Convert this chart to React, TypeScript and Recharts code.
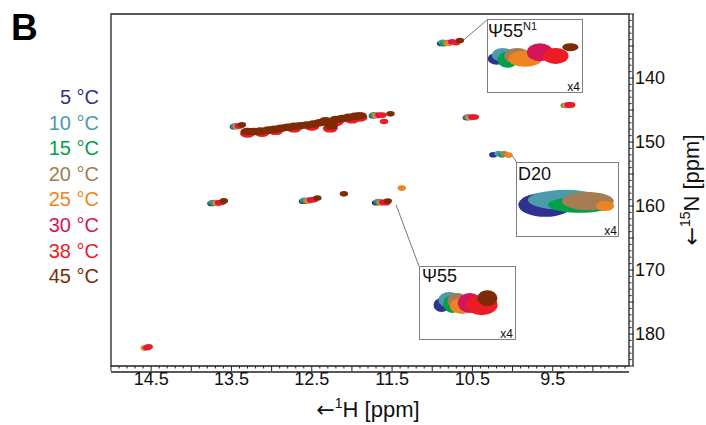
import React from 'react';
import { ScatterChart, Scatter, XAxis, YAxis, ReferenceArea, ReferenceLine } from 'recharts';

const temps = ['5 °C', '10 °C', '15 °C', '20 °C', '25 °C', '30 °C', '38 °C', '45 °C'];
const tempColors = ['#2e3192', '#4b9bab', '#00a14b', '#a67c52', '#ee8421', '#d4145a', '#ec1c24', '#7e2a05'];

// peak positions per temperature: h = 1H ppm, n = 15N ppm
const peaks5 = [
  { id: 'psi55n1', h: 10.89, n: 134.6 },
  { id: 'd20', h: 10.24, n: 152.0 },
  { id: 'psi55', h: 11.7, n: 159.5 },
  { id: 'a', h: 13.75, n: 159.6 },
  { id: 'b', h: 12.61, n: 159.25 },
  { id: 'c', h: 13.47, n: 147.6 },
  { id: 'd', h: 11.74, n: 145.9 },
  { id: 'e', h: 10.57, n: 146.2 },
];
const peaks10 = [
  { id: 'psi55n1', h: 10.871, n: 134.44 },
  { id: 'd20', h: 10.175, n: 151.8 },
  { id: 'psi55', h: 11.675, n: 159.3 },
  { id: 'a', h: 13.735, n: 159.45 },
  { id: 'b', h: 12.595, n: 159.1 },
  { id: 'c', h: 13.46, n: 147.5 },
  { id: 'd', h: 11.73, n: 145.75 },
  { id: 'e', h: 10.56, n: 146.1 },
];
const peaks15 = [
  { id: 'psi55n1', h: 10.856, n: 134.64 },
  { id: 'd20', h: 10.13, n: 152.0 },
  { id: 'psi55', h: 11.666, n: 159.46 },
  { id: 'a', h: 13.72, n: 159.55 },
  { id: 'b', h: 12.58, n: 159.2 },
  { id: 'c', h: 13.45, n: 147.55 },
  { id: 'd', h: 11.72, n: 145.85 },
  { id: 'e', h: 10.55, n: 146.15 },
  { id: 'f', h: 9.35, n: 144.3 },
];
const peaks20 = [
  { id: 'psi55n1', h: 10.825, n: 134.48 },
  { id: 'd20', h: 10.105, n: 151.85 },
  { id: 'psi55', h: 11.65, n: 159.34 },
  { id: 'a', h: 13.7, n: 159.45 },
  { id: 'b', h: 12.56, n: 159.1 },
  { id: 'c', h: 13.44, n: 147.5 },
  { id: 'd', h: 11.705, n: 145.8 },
  { id: 'e', h: 10.54, n: 146.1 },
  { id: 'f', h: 9.34, n: 144.25 },
];
const peaks25 = [
  { id: 'psi55n1', h: 10.8, n: 134.6 },
  { id: 'd20', h: 10.05, n: 152.05 },
  { id: 'psi55', h: 11.635, n: 159.54 },
  { id: 'a', h: 13.68, n: 159.6 },
  { id: 'b', h: 12.54, n: 159.2 },
  { id: 'c', h: 13.43, n: 147.6 },
  { id: 'd', h: 11.69, n: 145.9 },
  { id: 'e', h: 10.53, n: 146.2 },
  { id: 'f', h: 9.33, n: 144.3 },
  { id: 'i', h: 11.38, n: 157.2 },
  { id: 'j', h: 14.58, n: 182.2 },
];
const peaks30 = [
  { id: 'psi55n1', h: 10.753, n: 134.33 },
  { id: 'psi55', h: 11.61, n: 159.42 },
  { id: 'a', h: 13.655, n: 159.5 },
  { id: 'b', h: 12.51, n: 159.05 },
  { id: 'c', h: 13.41, n: 147.5 },
  { id: 'd', h: 11.66, n: 145.8 },
  { id: 'e', h: 10.5, n: 146.1 },
  { id: 'f', h: 9.3, n: 144.2 },
  { id: 'j', h: 14.55, n: 182.1 },
];
const peaks38 = [
  { id: 'psi55n1', h: 10.703, n: 134.48 },
  { id: 'psi55', h: 11.572, n: 159.5 },
  { id: 'a', h: 13.625, n: 159.45 },
  { id: 'b', h: 12.47, n: 159.0 },
  { id: 'c', h: 13.39, n: 147.45 },
  { id: 'd', h: 11.62, n: 145.8 },
  { id: 'e', h: 10.47, n: 146.1 },
  { id: 'f', h: 9.27, n: 144.2 },
  { id: 'g', h: 11.6, n: 146.8 },
  { id: 'j', h: 14.53, n: 182.0 },
];
const peaks45 = [
  { id: 'psi55n1', h: 10.656, n: 134.13 },
  { id: 'psi55', h: 11.554, n: 159.23 },
  { id: 'a', h: 13.595, n: 159.2 },
  { id: 'b', h: 12.43, n: 158.75 },
  { id: 'c', h: 13.37, n: 147.3 },
  { id: 'd', h: 11.52, n: 145.6 },
  { id: 'h', h: 12.1, n: 158.1 },
];
const peaksByTemp = [peaks5, peaks10, peaks15, peaks20, peaks25, peaks30, peaks38, peaks45];

// crowded region (overlapping peaks) at 38 and 45 °C
const band38 = [
  { h: 13.3, n: 148.7 }, { h: 13.12, n: 148.6 }, { h: 12.95, n: 148.3 }, { h: 12.72, n: 147.9 },
  { h: 12.5, n: 147.6 }, { h: 12.27, n: 147.9 }, { h: 12.2, n: 146.9 }, { h: 12.0, n: 146.5 },
  { h: 11.9, n: 146.2 },
];
const band45 = [
  { h: 13.3, n: 148.35 }, { h: 13.22, n: 148.35 }, { h: 13.14, n: 148.3 }, { h: 13.04, n: 148.15 },
  { h: 12.96, n: 148.0 }, { h: 12.88, n: 147.85 }, { h: 12.8, n: 147.7 }, { h: 12.72, n: 147.55 },
  { h: 12.64, n: 147.45 }, { h: 12.56, n: 147.35 }, { h: 12.48, n: 147.2 }, { h: 12.4, n: 147.0 },
  { h: 12.33, n: 146.7 }, { h: 12.26, n: 147.5 }, { h: 12.2, n: 146.5 }, { h: 12.12, n: 146.35 },
  { h: 12.04, n: 146.15 }, { h: 11.96, n: 146.0 }, { h: 11.9, n: 145.9 },
];

const xLabels = [14.5, 13.5, 12.5, 11.5, 10.5, 9.5];
const yLabels = [140, 150, 160, 170, 180];

const xTicks: number[] = [];
for (let i = 86; i <= 150; i++) xTicks.push(i / 10);
const yTicks: number[] = [];
for (let i = 130; i <= 185; i++) yTicks.push(i);

const insets = [
  {
    id: 'psi55n1', label: 'Ψ55', sup: 'N1', box: [487, 19, 96, 74],
    hDom: [10.619, 10.918], nDom: [133.04, 135.93],
    rad: [[9, 6], [11, 7], [10, 8], [13, 8], [17, 8], [13, 9], [13, 8], [8, 4]],
    lead: [{ x: 10.64, y: 134.4 }, { x: 10.32, y: 130.94 }],
  },
  {
    id: 'd20', label: 'D20', sup: '', box: [516, 162, 103, 75],
    hDom: [10.009, 10.33], nDom: [150.32, 153.25],
    rad: [[27, 12], [38, 10], [32, 8], [26, 9], [9, 5], [0, 0], [0, 0], [0, 0]],
    lead: [{ x: 10.02, y: 151.9 }, { x: 9.94, y: 153.3 }],
  },
  {
    id: 'psi55', label: 'Ψ55', sup: '', box: [419, 266, 97, 74],
    hDom: [11.466, 11.7685], nDom: [157.977, 160.867],
    rad: [[8, 7], [11, 8], [9, 9], [10, 8], [12, 8], [12, 10], [16, 10], [10, 8]],
    lead: [{ x: 11.45, y: 159.84 }, { x: 11.165, y: 169.4 }],
  },
];

const FONT = '"Liberation Sans", Arial, sans-serif';
const INK = '#222';

const XTick = (p: any) => {
  const v = Math.round(p.payload.value * 10) / 10;
  const major = Math.round(v * 10) % 5 === 0;
  return (
    <g>
      <line x1={p.x} x2={p.x} y1={p.y} y2={p.y + (major ? 5 : 2.5)} stroke={INK} strokeWidth={1} />
      {xLabels.includes(v) && (
        <text x={p.x} y={p.y + 19} textAnchor="middle" fontSize={18} fontFamily={FONT} fill="#111">
          {v.toFixed(1)}
        </text>
      )}
    </g>
  );
};

const YTick = (p: any) => {
  const v = Math.round(p.payload.value);
  const major = v % 5 === 0;
  return (
    <g>
      <line x1={p.x} x2={p.x + (major ? 5 : 2.5)} y1={p.y} y2={p.y} stroke={INK} strokeWidth={1} />
      {yLabels.includes(v) && (
        <text x={p.x + 6} y={p.y} dominantBaseline="central" fontSize={18} fontFamily={FONT} fill="#111">
          {v}
        </text>
      )}
    </g>
  );
};

const ellipse = (rx: number, ry: number, fill: string) => (p: any) =>
  <ellipse cx={p.cx} cy={p.cy} rx={rx} ry={ry} fill={fill} />;

const Inset = ({ inset }: { inset: any }) => {
  const [left, top, w, h] = inset.box;
  return (
    <div style={{ position: 'absolute', left, top, width: w - 2, height: h - 2, border: '1px solid #808080', background: '#fff' }}>
      <ScatterChart width={w - 2} height={h - 2} margin={{ top: 0, right: 0, bottom: 0, left: 0 }}>
        <XAxis type="number" dataKey="h" domain={inset.hDom} reversed allowDataOverflow hide />
        <YAxis type="number" dataKey="n" domain={inset.nDom} reversed allowDataOverflow hide />
        {peaksByTemp.map((arr, i) => {
          const pts = arr.filter((d) => d.id === inset.id);
          if (!pts.length) return null;
          const [rx, ry] = inset.rad[i];
          return (
            <Scatter key={i} data={pts} isAnimationActive={false} shape={ellipse(rx, ry, tempColors[i])} />
          );
        })}
      </ScatterChart>
    </div>
  );
};

export default function App() {
  return (
    <div className="nmr" style={{ position: 'relative', width: 706, height: 425, fontFamily: FONT }}>
      <style>{`body{margin:0} .nmr .recharts-xAxis{transform:translate(0px,6px)} .nmr .recharts-yAxis{transform:translate(4px,0px)}`}</style>
      <ScatterChart width={706} height={425} margin={{ top: 14, right: 7, bottom: 9, left: 111 }}>
        <XAxis
          type="number" dataKey="h" domain={[8.55, 15]} reversed allowDataOverflow
          ticks={xTicks} interval={0} tickSize={0} tickMargin={0} tickLine={false}
          axisLine={{ stroke: INK, strokeWidth: 1.3 }} tick={(p: any) => <XTick {...p} />} height={50}
        />
        <YAxis
          type="number" dataKey="n" orientation="right" domain={[130, 185]} reversed allowDataOverflow
          ticks={yTicks} interval={0} tickSize={0} tickMargin={0} tickLine={false}
          axisLine={{ stroke: INK, strokeWidth: 1.3 }} tick={(p: any) => <YTick {...p} />} width={70}
        />
        <ReferenceArea x1={8.55} x2={15} y1={130} y2={185} fill="none" stroke={INK} strokeWidth={1.3} ifOverflow="visible" />
        {insets.map((s) => (
          <ReferenceLine key={s.id} segment={s.lead} stroke="#555" strokeWidth={0.8} ifOverflow="visible" />
        ))}
        {peaksByTemp.map((arr, i) => (
          <Scatter key={temps[i]} name={temps[i]} data={arr} isAnimationActive={false} shape={ellipse(4.2, 2.8, tempColors[i])} />
        ))}
        <Scatter name="band38" data={band38} isAnimationActive={false} shape={ellipse(7.5, 4, tempColors[6])} />
        <Scatter name="band45" data={band45} isAnimationActive={false} shape={ellipse(7, 3.8, tempColors[7])} />
      </ScatterChart>

      {insets.map((s) => <Inset key={s.id} inset={s} />)}

      <svg width={706} height={425} style={{ position: 'absolute', left: 0, top: 0, pointerEvents: 'none' }} fontFamily={FONT}>
        <text x={11} y={40} fontSize={37} fontWeight="bold" fill="#000">B</text>
        {temps.map((t, i) => (
          <text key={t} x={99} y={104 + i * 25.6} textAnchor="end" fontSize={20} fill={tempColors[i]}>{t}</text>
        ))}
        <text x={368} y={417} textAnchor="middle" fontSize={22} fill="#111">
          <tspan fontFamily="DejaVu Sans">←</tspan><tspan fontSize={14} dy={-9}>1</tspan><tspan dy={9}>H [ppm]</tspan>
        </text>
        <g transform="translate(699,190) rotate(-90)">
          <text x={0} y={0} textAnchor="middle" fontSize={22} fill="#111">
            <tspan fontFamily="DejaVu Sans">←</tspan><tspan fontSize={14} dy={-9}>15</tspan><tspan dy={9}>N [ppm]</tspan>
          </text>
        </g>
        <text x={488} y={37} fontSize={18} fill="#111">Ψ55<tspan fontSize={11} dy={-7}>N1</tspan></text>
        <text x={580} y={91} textAnchor="end" fontSize={12} fill="#111">x4</text>
        <text x={518} y={180} fontSize={18} fill="#111">D20</text>
        <text x={617} y={235} textAnchor="end" fontSize={12} fill="#111">x4</text>
        <text x={422} y={282} fontSize={18} fill="#111">Ψ55</text>
        <text x={513} y={338} textAnchor="end" fontSize={12} fill="#111">x4</text>
      </svg>
    </div>
  );
}
